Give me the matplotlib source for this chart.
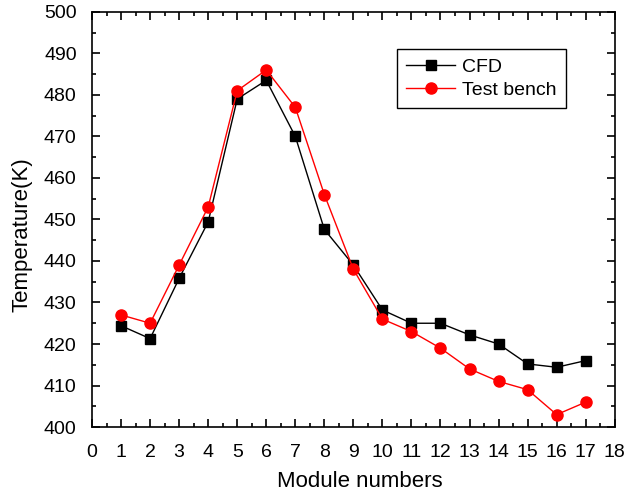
import matplotlib.pyplot as plt
from matplotlib.ticker import MultipleLocator

plt.rcParams['font.family'] = ['Liberation Sans', 'DejaVu Sans']

# module numbers and temperatures (K)
modulos = list(range(1, 18))
cfd = [424.4, 421.3, 435.8, 449.4, 479.0, 483.5, 470.0, 447.6, 439.0,
       428.2, 425.0, 425.0, 422.2, 420.0, 415.2, 414.4, 416.0]
bancada = [427.0, 425.0, 439.0, 453.0, 481.0, 486.0, 477.0, 456.0, 438.0,
           426.0, 423.0, 419.0, 414.0, 411.0, 409.0, 403.0, 406.0]

fig = plt.figure(figsize=(6.26, 4.92), dpi=100)
ax = fig.add_axes([0.147, 0.132, 0.835, 0.844])

ax.plot(modulos, cfd, color='black', lw=1, marker='s', ms=7, label='CFD')
ax.plot(modulos, bancada, color='red', lw=1, marker='o', ms=8, label='Test bench')

ax.set_xlim(0, 18)
ax.set_ylim(400, 500)
ax.xaxis.set_major_locator(MultipleLocator(1))
ax.xaxis.set_minor_locator(MultipleLocator(0.5))
ax.yaxis.set_major_locator(MultipleLocator(10))
ax.yaxis.set_minor_locator(MultipleLocator(5))
ax.tick_params(which='both', direction='in', top=True, right=True, width=1.2)
ax.tick_params(which='major', length=6, labelsize=14)
ax.tick_params(axis='x', which='major', pad=12)
ax.tick_params(axis='y', which='major', pad=11)
ax.tick_params(which='minor', length=3)
for s in ax.spines.values():
    s.set_linewidth(1.2)

ax.set_xlabel('Module numbers', fontsize=16)
ax.set_ylabel('Temperature(K)', fontsize=16)
ax.xaxis.set_label_coords(0.512, -0.105)
ax.yaxis.set_label_coords(-0.114, 0.463)

leg = ax.legend(loc='upper left', bbox_to_anchor=(0.583, 0.911), fontsize=14,
                fancybox=False, edgecolor='black', framealpha=1,
                handlelength=2.5, borderpad=0.5, labelspacing=0.25,
                handletextpad=0.35, borderaxespad=0)
leg.get_frame().set_linewidth(1)

fig.savefig('out.png', dpi=100)
